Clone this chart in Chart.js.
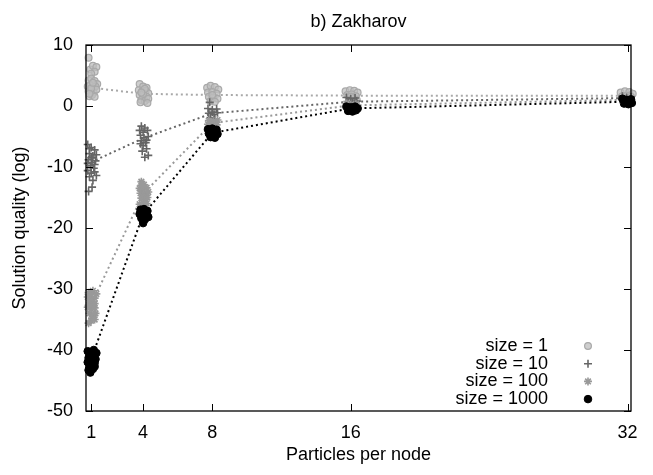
<!DOCTYPE html>
<html>
<head>
<meta charset="utf-8">
<script src="https://cdn.jsdelivr.net/npm/chart.js@4.4.1/dist/chart.umd.min.js"></script>
<style>
  html, body { margin: 0; padding: 0; background: #fff; }
  #wrap { width: 653px; height: 475px; }
</style>
</head>
<body>
<div id="wrap"><canvas id="chart" width="653" height="475"></canvas></div>
<script>
// ─── Data ─────────────────────────────────────────────────────
const chartTitle = 'b) Zakharov';
const xTicks = [1, 4, 8, 16, 32];
const yTicks = [10, 0, -10, -20, -30, -40, -50];
const seriesNames = ['size = 1', 'size = 10', 'size = 100', 'size = 1000'];

// dotted line through each group (per particles-per-node value)
const meanSize1 = [3.0, 2.0, 1.8, 1.7, 1.7];
const meanSize10 = [-9.2, -5.3, -1.2, 0.7, 1.3];
const meanSize100 = [-32.6, -14.4, -2.8, 0.1, 1.0];
const meanSize1000 = [-41.5, -17.8, -4.4, -0.4, 0.7];

// individual runs, [x, y]
const runsSize1 = [
  [0.85, 7.9], [0.95, 6.0], [1.1, 6.6], [1.3, 6.4], [1.2, 5.6], [1.0, 5.3],
  [0.85, 4.2], [1.0, 4.5], [1.2, 4.1], [1.35, 3.6], [0.8, 3.2], [0.95, 3.4],
  [1.1, 3.0], [1.25, 3.2], [0.85, 2.4], [1.0, 2.6], [1.15, 2.2], [1.3, 2.7],
  [0.9, 1.6], [1.05, 1.8], [1.2, 1.5], [1.0, 2.9], [1.1, 3.8], [0.9, 2.0],
  [3.8, 3.6], [4.0, 3.2], [4.2, 3.0], [3.75, 2.6], [3.95, 2.4], [4.15, 2.5],
  [4.3, 2.1], [3.8, 1.8], [4.0, 1.6], [4.2, 1.5], [3.9, 1.0], [4.1, 0.8],
  [4.3, 1.2], [4.0, 2.0], [3.85, 0.6], [4.25, 0.5], [4.1, 2.8], [3.9, 2.2],
  [7.7, 3.0], [7.9, 3.3], [8.15, 3.1], [8.35, 2.7], [7.75, 2.2], [8.0, 2.3],
  [8.25, 2.0], [7.8, 1.5], [8.05, 1.4], [8.3, 1.2], [7.9, 0.8], [8.15, 0.7], [8.0, 1.8],
  [15.7, 2.4], [15.95, 2.6], [16.2, 2.5], [16.4, 2.2], [15.8, 1.8], [16.05, 1.9],
  [16.3, 1.6], [15.9, 1.2], [16.15, 1.1], [16.35, 1.0], [16.0, 1.5],
  [31.6, 2.2], [31.85, 2.4], [32.1, 2.3], [32.3, 2.0], [31.7, 1.6], [31.95, 1.7],
  [32.2, 1.5], [31.8, 1.2], [32.05, 1.1]
];
const runsSize10 = [
  [0.8, -6.3], [1.0, -6.8], [1.2, -7.2], [0.9, -7.8], [1.1, -8.2], [1.3, -8.0],
  [0.85, -8.8], [1.05, -9.3], [1.25, -9.0], [0.95, -9.8], [1.15, -10.2], [0.8, -10.6],
  [1.0, -11.0], [1.2, -10.8], [0.9, -11.6], [1.1, -12.2], [1.05, -13.3], [0.85, -14.0],
  [1.0, -8.5], [0.8, -9.4], [1.2, -9.6], [1.3, -11.4], [0.9, -7.0],
  [3.9, -3.3], [4.1, -3.6], [3.8, -4.0], [4.0, -4.3], [4.25, -4.0], [3.85, -4.8],
  [4.05, -5.2], [4.3, -5.0], [3.9, -5.7], [4.15, -6.0], [4.0, -6.5], [4.2, -7.0],
  [3.95, -7.4], [4.3, -8.1], [4.1, -8.4], [4.2, -5.6], [3.85, -6.2],
  [7.85, 0.6], [7.75, -0.4], [8.0, -0.6], [8.25, -0.5], [7.8, -1.2], [8.1, -1.4],
  [8.3, -1.1], [7.9, -1.9], [8.15, -2.1], [8.0, -1.0],
  [15.75, 1.4], [16.0, 1.2], [16.25, 1.3], [15.85, 0.7], [16.1, 0.6], [16.35, 0.8], [16.0, 0.3],
  [31.7, 1.6], [31.95, 1.4], [32.2, 1.5], [31.8, 1.0], [32.05, 0.9]
];
const runsSize100 = [
  [0.85, -30.6], [1.1, -30.3], [1.3, -30.8], [0.8, -31.3], [1.0, -31.6], [1.2, -31.5],
  [0.9, -32.2], [1.1, -32.5], [0.8, -33.0], [1.0, -33.3], [1.2, -33.1], [0.9, -34.0],
  [1.1, -34.4], [1.25, -34.0], [1.0, -35.2], [0.85, -35.6], [1.0, -32.0],
  [0.95, -30.9], [1.2, -32.4], [0.85, -32.8], [1.05, -34.8], [1.2, -35.0], [0.9, -31.9],
  [3.9, -12.4], [4.05, -12.9], [3.8, -13.5], [4.0, -13.7], [4.2, -13.4], [3.85, -14.3],
  [4.1, -14.5], [4.3, -14.1], [3.9, -15.1], [4.15, -15.3], [4.0, -15.9], [3.8, -16.1], [4.2, -16.0],
  [4.0, -14.9], [3.9, -13.0], [4.25, -15.0],
  [7.8, -2.4], [8.05, -2.5], [8.3, -2.3], [7.75, -3.0], [8.0, -3.2], [8.25, -3.1], [7.9, -3.7], [8.15, -3.8],
  [15.75, 0.4], [16.0, 0.2], [16.3, 0.3], [15.85, -0.2], [16.15, -0.3],
  [31.7, 1.1], [31.95, 1.0], [32.2, 1.1], [31.85, 0.6]
];
const runsSize1000 = [
  [0.8, -40.2], [1.15, -40.0], [0.95, -40.6], [1.3, -40.5], [0.85, -41.3], [1.1, -41.1],
  [1.25, -41.5], [0.8, -42.0], [1.0, -42.3], [1.2, -42.1], [0.9, -42.9], [1.1, -43.1],
  [0.95, -43.7], [1.05, -41.8], [1.0, -40.9], [0.85, -43.3], [1.2, -42.7],
  [3.85, -17.0], [4.05, -16.9], [4.25, -17.2], [3.8, -17.7], [4.0, -17.8], [4.2, -17.9],
  [3.9, -18.4], [4.1, -18.6], [4.3, -18.2], [4.0, -19.2], [4.15, -17.4],
  [7.75, -3.8], [8.0, -3.7], [8.25, -3.9], [7.8, -4.5], [8.05, -4.4], [8.3, -4.6], [7.9, -5.1], [8.15, -5.2],
  [15.75, -0.1], [16.0, -0.2], [16.25, -0.1], [16.4, -0.4], [15.85, -0.8], [16.1, -0.9], [16.3, -0.7],
  [31.7, 1.2], [31.95, 1.0], [32.2, 1.1], [31.8, 0.4], [32.05, 0.3], [32.25, 0.5]
];

// ─── Styles ───────────────────────────────────────────────────
const FONT = { family: "'Liberation Sans', Arial, Helvetica, sans-serif", size: 18 };
const styles = [
  { color: '#a9a9a9', fill: 'rgba(190,190,190,0.75)', pointStyle: 'circle', radius: 3.4, width: 1.2 },
  { color: '#666666', fill: '#666666', pointStyle: 'cross', radius: 4, width: 1.6 },
  { color: '#999999', fill: '#999999', pointStyle: 'star', radius: 4, width: 1.6 },
  { color: '#000000', fill: '#000000', pointStyle: 'circle', radius: 3.8, width: 1 }
];
const means = [meanSize1, meanSize10, meanSize100, meanSize1000];
const runs = [runsSize1, runsSize10, runsSize100, runsSize1000];

const toPoints = arr => arr.map(p => ({ x: p[0], y: p[1] }));

const datasets = [];
runs.forEach((r, i) => {
  const s = styles[i];
  datasets.push({
    label: seriesNames[i],
    data: toPoints(r),
    pointStyle: s.pointStyle,
    pointRadius: s.radius,
    pointBorderWidth: s.width,
    pointBorderColor: s.color,
    pointBackgroundColor: s.fill,
    showLine: false,
    clip: false,
    order: 10 - i
  });
  datasets.push({
    label: seriesNames[i] + ' (line)',
    data: xTicks.map((x, k) => ({ x: x, y: means[i][k] })),
    showLine: true,
    borderColor: s.color,
    borderWidth: 2,
    borderDash: [2, 3],
    pointRadius: 0,
    clip: false,
    order: 20 - i
  });
});

// ─── Frame + inward ticks (gnuplot look) ──────────────────────
const framePlugin = {
  id: 'frame',
  afterDatasetsDraw(chart) {
    const { ctx, chartArea: a, scales } = chart;
    ctx.save();
    ctx.strokeStyle = '#000';
    ctx.lineWidth = 1.3;
    ctx.strokeRect(a.left, a.top, a.right - a.left, a.bottom - a.top);
    ctx.lineWidth = 1;
    ctx.beginPath();
    xTicks.forEach(v => {
      const px = Math.round(scales.x.getPixelForValue(v)) + 0.5;
      ctx.moveTo(px, a.bottom); ctx.lineTo(px, a.bottom - 7);
      ctx.moveTo(px, a.top); ctx.lineTo(px, a.top + 7);
    });
    yTicks.forEach(v => {
      const py = Math.round(scales.y.getPixelForValue(v)) + 0.5;
      ctx.moveTo(a.left, py); ctx.lineTo(a.left + 7, py);
      ctx.moveTo(a.right, py); ctx.lineTo(a.right - 7, py);
    });
    ctx.stroke();

    // title centred over the plot area
    ctx.font = FONT.size + 'px ' + FONT.family;
    ctx.fillStyle = '#000';
    ctx.textAlign = 'center';
    ctx.textBaseline = 'middle';
    ctx.fillText(chartTitle, (a.left + a.right) / 2, 22);
    ctx.restore();
  }
};

// ─── Key in the lower right, text before marker ──────────────
const keyPlugin = {
  id: 'key',
  afterDraw(chart) {
    const ctx = chart.ctx;
    const textRight = 548, markX = 588, firstY = 346, step = 17.7;
    ctx.save();
    ctx.font = FONT.size + 'px ' + FONT.family;
    ctx.textAlign = 'right';
    ctx.textBaseline = 'middle';
    seriesNames.forEach((name, i) => {
      const y = firstY + i * step;
      ctx.fillStyle = '#000';
      ctx.fillText(name, textRight, y);
      const s = styles[i];
      ctx.strokeStyle = s.color;
      ctx.fillStyle = s.fill;
      ctx.lineWidth = s.width;
      Chart.helpers.drawPoint(ctx, { pointStyle: s.pointStyle, radius: s.radius, borderWidth: s.width, rotation: 0 }, markX, y);
    });
    ctx.restore();
  }
};

new Chart(document.getElementById('chart'), {
  type: 'scatter',
  data: { datasets: datasets },
  options: {
    responsive: false,
    animation: false,
    layout: { padding: { left: 0, right: 22, top: 45, bottom: 0 } },
    plugins: {
      legend: { display: false },
      tooltip: { enabled: false },
      title: { display: false }
    },
    scales: {
      x: {
        type: 'linear',
        min: 0.7,
        max: 32.2,
        afterBuildTicks: s => { s.ticks = xTicks.map(v => ({ value: v })); },
        afterFit: s => { s.height = 64; },
        grid: { display: false, drawTicks: false },
        border: { display: false },
        ticks: { color: '#000', font: FONT, padding: 11, maxRotation: 0, autoSkip: false },
        title: {
          display: true,
          text: 'Particles per node',
          color: '#000',
          font: FONT,
          padding: { top: 0, bottom: 9 }
        }
      },
      y: {
        type: 'linear',
        min: -50,
        max: 10,
        afterBuildTicks: s => { s.ticks = yTicks.slice().reverse().map(v => ({ value: v })); },
        afterFit: s => { s.width = 86; },
        grid: { display: false, drawTicks: false },
        border: { display: false },
        ticks: { color: '#000', font: FONT, padding: 13, autoSkip: false },
        title: {
          display: true,
          text: 'Solution quality (log)',
          color: '#000',
          font: FONT,
          padding: { top: 9, bottom: 0 }
        }
      }
    }
  },
  plugins: [framePlugin, keyPlugin]
});
</script>
</body>
</html>
